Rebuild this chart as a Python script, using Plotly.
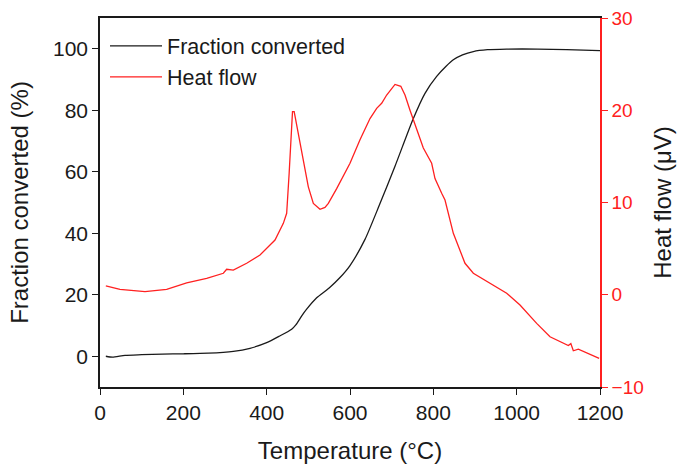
import plotly.graph_objects as go

# Fraction converted (%) vs temperature (°C)
frac_temp = [14, 30, 60, 100, 150, 200, 260, 320, 360, 400, 430, 460, 470, 485, 496,
             520, 550, 576, 600, 636, 670, 708, 751, 780, 808, 830, 848, 870, 896,
             930, 976, 1050, 1120, 1200]
frac_val = [0.0, -0.3, 0.3, 0.5, 0.7, 0.8, 1.0, 1.6, 2.6, 4.4, 6.5, 8.8, 10.2, 13.3, 15.3,
            19.0, 22.2, 25.6, 29.5, 38.0, 49.0, 61.8, 77.0, 85.5, 91.0, 94.2, 96.4, 98.0, 99.1,
            99.7, 99.9, 99.9, 99.7, 99.4]

# Heat flow (µV) vs temperature (°C)
heat_temp = [14, 48, 108, 160, 208, 256, 296, 304, 320, 352, 384, 416, 420, 440, 448,
             454, 458, 462, 466, 476, 488, 500, 512, 528, 540, 548, 568, 600, 624,
             648, 664, 676, 688, 700, 708, 722, 732, 744, 760, 776, 796, 804, 820,
             828, 848, 876, 896, 936, 976, 1008, 1048, 1080, 1120, 1124, 1130, 1136,
             1148, 1168, 1198]
heat_val = [0.95, 0.59, 0.33, 0.59, 1.3, 1.78, 2.33, 2.76, 2.68, 3.41, 4.3, 5.75, 5.93, 7.74, 8.83,
            13.2, 16.8, 19.85, 19.85, 17.5, 14.6, 11.7, 9.9, 9.26, 9.47, 9.9, 11.5, 14.25, 16.8,
            19.1, 20.2, 20.75, 21.65, 22.27, 22.8, 22.6, 21.65, 20.0, 17.86, 15.9, 14.25, 12.6, 11.0,
            10.27, 6.66, 3.41, 2.33, 1.24, 0.16, -1.11, -3.1, -4.55, -5.45, -5.5, -5.3, -6.07,
            -5.9, -6.28, -6.9]

x_ticks = [0, 200, 400, 600, 800, 1000, 1200]
left_ticks = [0, 20, 40, 60, 80, 100]
right_ticks = [-10, 0, 10, 20, 30]

FONT = "Liberation Sans, Arial, sans-serif"
RED = "#ff2020"
INK = "#1a1a1a"

fig = go.Figure()

fig.add_trace(
    go.Scatter(
        x=frac_temp,
        y=frac_val,
        mode="lines",
        name="Fraction converted",
        line=dict(color=INK, width=1.3, shape="spline", smoothing=0.6),
    )
)
fig.add_trace(
    go.Scatter(
        x=heat_temp,
        y=heat_val,
        mode="lines",
        name="Heat flow",
        yaxis="y2",
        line=dict(color=RED, width=1.3),
    )
)

fig.update_layout(
    width=677,
    height=464,
    margin=dict(l=100, r=77, t=18, b=77),
    paper_bgcolor="white",
    plot_bgcolor="white",
    font=dict(family=FONT, color=INK),
    showlegend=True,
    legend=dict(
        x=0.01,
        y=0.98,
        xanchor="left",
        yanchor="top",
        bgcolor="rgba(0,0,0,0)",
        font=dict(size=21.5, family=FONT, color=INK),
        tracegroupgap=0,
        itemwidth=52,
    ),
    xaxis=dict(
        range=[0, 1200],
        tickvals=x_ticks,
        ticks="outside",
        ticklen=6,
        tickwidth=1.3,
        tickcolor=INK,
        showline=True,
        linecolor=INK,
        linewidth=1.5,
        mirror=True,
        showgrid=False,
        zeroline=False,
        automargin=False,
        tickfont=dict(size=21),
        title=dict(text="Temperature (°C)", font=dict(size=24), standoff=20),
    ),
    yaxis=dict(
        range=[-10, 110],
        tickvals=left_ticks,
        ticks="outside",
        ticklen=6,
        tickwidth=1.3,
        tickcolor=INK,
        showline=True,
        linecolor=INK,
        linewidth=1.5,
        showgrid=False,
        zeroline=False,
        automargin=False,
        tickfont=dict(size=21),
        title=dict(text="Fraction converted (%)", font=dict(size=24), standoff=18),
    ),
    yaxis2=dict(
        range=[-10, 30],
        tickvals=right_ticks,
        overlaying="y",
        side="right",
        ticks="outside",
        ticklen=6,
        tickwidth=1.3,
        tickcolor=RED,
        showline=True,
        linecolor=RED,
        linewidth=1.5,
        showgrid=False,
        zeroline=False,
        automargin=False,
        tickfont=dict(size=19, color=RED),
        title=dict(text="Heat flow (μV)", font=dict(size=24, color=INK), standoff=11),
    ),
)

# the browser's default 8px body margin would push the figure off-window
fig.write_html(
    "out.html",
    config=dict(displayModeBar=False),
    post_script="document.body.style.margin='0';",
)
